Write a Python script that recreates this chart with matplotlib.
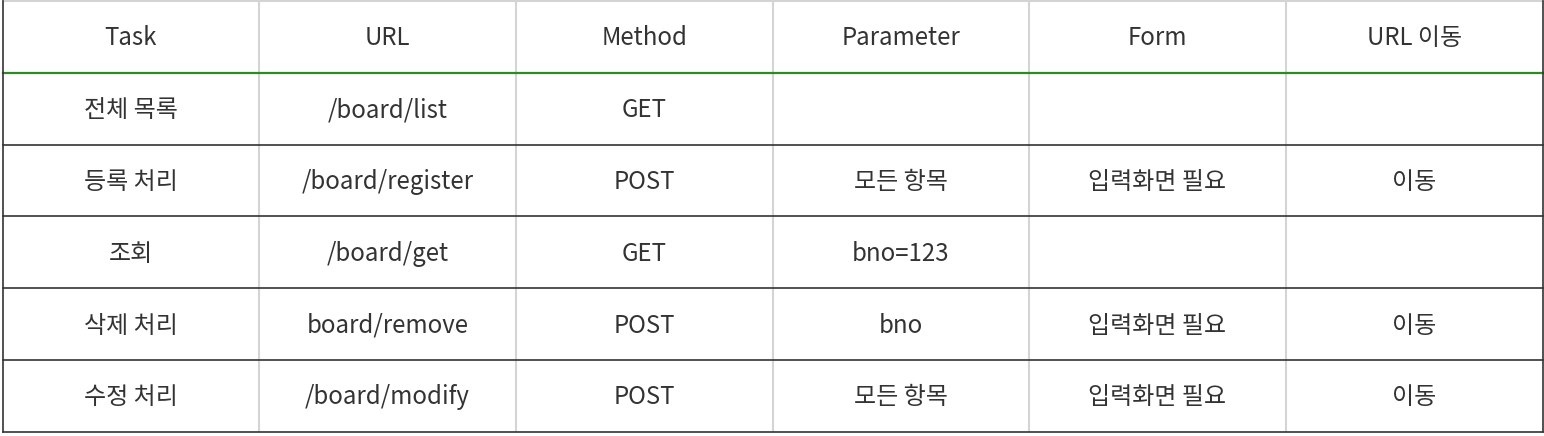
import matplotlib
matplotlib.use("Agg")
import matplotlib.pyplot as plt

plt.rcParams["font.family"] = ["Noto Sans CJK KR", "DejaVu Sans"]

headers = ["Task", "URL", "Method", "Parameter", "Form", "URL 이동"]
task = ["전체 목록", "등록 처리", "조회", "삭제 처리", "수정 처리"]
url = ["/board/list", "/board/register", "/board/get", "board/remove", "/board/modify"]
method = ["GET", "POST", "GET", "POST", "POST"]
param = ["", "모든 항목", "bno=123", "bno", "모든 항목"]
form = ["", "입력화면 필요", "", "입력화면 필요", "입력화면 필요"]
move = ["", "이동", "", "이동", "이동"]

columns = [task, url, method, param, form, move]

W, H = 1544, 436
fig = plt.figure(figsize=(W / 100, H / 100), dpi=100)
ax = fig.add_axes([0, 0, 1, 1])
ax.set_xlim(0, W)
ax.set_ylim(H, 0)
ax.axis("off")

x0, x1 = 2.5, 1542.5
y0, row_h = 1, 71.8
ncol = len(headers)
nrow = len(task) + 1
col_w = (x1 - x0) / ncol
y_end = y0 + row_h * nrow

txt = "#333333"
fs = 17.3
dy = 1.5  # text sits a touch below row centre

# header
for j, h in enumerate(headers):
    ax.text(x0 + col_w * (j + 0.5), y0 + row_h * 0.5 + dy, h, ha="center",
            va="center", fontsize=fs, color=txt)
# body
for j, col in enumerate(columns):
    for i, v in enumerate(col):
        if v:
            ax.text(x0 + col_w * (j + 0.5), y0 + row_h * (i + 1.5) + dy, v,
                    ha="center", va="center", fontsize=fs, color=txt)

# inner vertical lines (light grey)
for j in range(1, ncol):
    ax.plot([x0 + col_w * j] * 2, [y0, y_end], color="#d4d4d4", lw=1.5,
            solid_capstyle="butt")
# top border
ax.plot([x0, x1], [y0, y0], color="#d4d4d4", lw=1.5)
# header separator (green)
ax.plot([x0, x1], [y0 + row_h, y0 + row_h], color="#2e8b22", lw=1.6)
# row separators
for i in range(2, nrow):
    ax.plot([x0, x1], [y0 + row_h * i] * 2, color="#333333", lw=1.2)
ax.plot([x0, x1], [y_end, y_end], color="#333333", lw=1.2)
# outer sides
ax.plot([x0, x0], [y0, y_end], color="#333333", lw=1.2)
ax.plot([x1, x1], [y0, y_end], color="#333333", lw=1.2)

fig.savefig("out.png", dpi=100, facecolor="white")
